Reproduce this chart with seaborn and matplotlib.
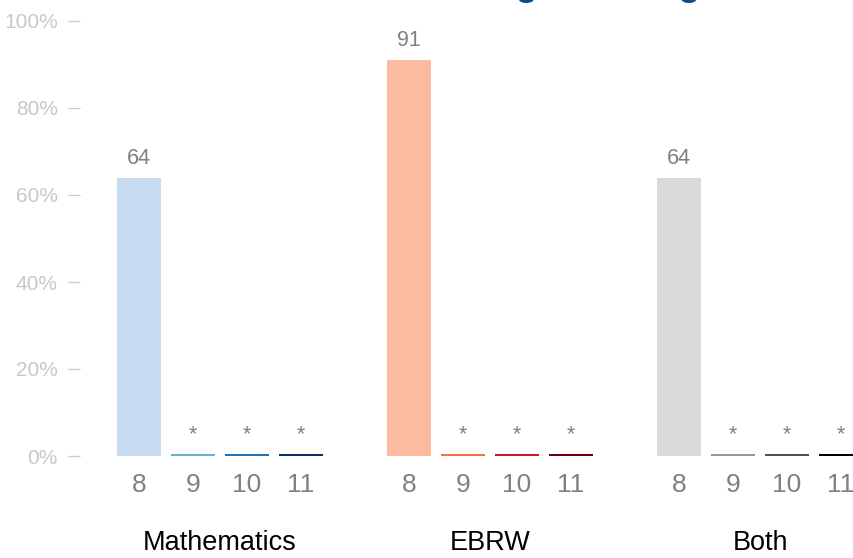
import pandas as pd
import matplotlib.pyplot as plt
import seaborn as sns

# Datos
subjects = ['Mathematics', 'EBRW', 'Both']
grades = ['8', '9', '10', '11']
values = {
    'Mathematics': [64, 0.4, 0.4, 0.4],
    'EBRW': [91, 0.4, 0.4, 0.4],
    'Both': [64, 0.4, 0.4, 0.4],
}
bar_labels = {
    'Mathematics': ['64', '*', '*', '*'],
    'EBRW': ['91', '*', '*', '*'],
    'Both': ['64', '*', '*', '*'],
}
colors = {
    'Mathematics': ['#c6dbef', '#6baed6', '#2171b5', '#08306b'],
    'EBRW': ['#fcbba1', '#fb6a4a', '#cb181d', '#67000d'],
    'Both': ['#d9d9d9', '#969696', '#525252', '#000000'],
}
title = 'Percentage Meeting Benchmark'

rows = []
for g, subj in enumerate(subjects):
    for i, grade in enumerate(grades):
        rows.append({'key': subj + grade, 'pos': g * 5 + i, 'grade': grade,
                     'subject': subj, 'value': values[subj][i],
                     'label': bar_labels[subj][i], 'color': colors[subj][i]})
df = pd.DataFrame(rows)

sns.set_style('white')
plt.rcParams['font.family'] = ['Liberation Sans', 'DejaVu Sans']

fig = plt.figure(figsize=(8.54, 5.58), dpi=100)
ax = fig.add_axes([80 / 854, 102 / 558, 800 / 854, 435 / 558])

sns.barplot(data=df, x='pos', y='value', hue='key', palette=dict(zip(df['key'], df['color'])),
            native_scale=True, dodge=False, width=0.815, legend=False, ax=ax,
            linewidth=0, saturation=1)

for _, r in df.iterrows():
    ax.text(r['pos'], r['value'] + 2.0, r['label'], ha='center', va='bottom',
            fontsize=15.5, color='#808080')

ax.set_xlim(-1.093, 13.72)
ax.set_ylim(0, 100)
ax.set_yticks([0, 20, 40, 60, 80, 100])
ax.set_yticklabels([f'{t}%' for t in range(0, 101, 20)])
ax.tick_params(axis='y', left=True, length=9, width=1, color='#cccccc',
               labelcolor='#c8c8c8', labelsize=15, pad=7)
ax.set_xticks(df['pos'])
ax.set_xticklabels(df['grade'])
ax.tick_params(axis='x', bottom=False, labelcolor='#808080', labelsize=19, pad=9)
ax.set_xlabel('')
ax.set_ylabel('')
for s in ax.spines.values():
    s.set_visible(False)

for g, subj in enumerate(subjects):
    ax.text(g * 5 + 1.5, -0.2, subj, transform=ax.get_xaxis_transform(),
            ha='center', va='center', fontsize=19.5, color='black')

fig.text(367 / 854, 1 + 4.4 / 558, title, ha='left', va='baseline',
         fontsize=25.4, fontweight='bold', color='#0b4a8f')

plt.savefig('out.png', dpi=100)
